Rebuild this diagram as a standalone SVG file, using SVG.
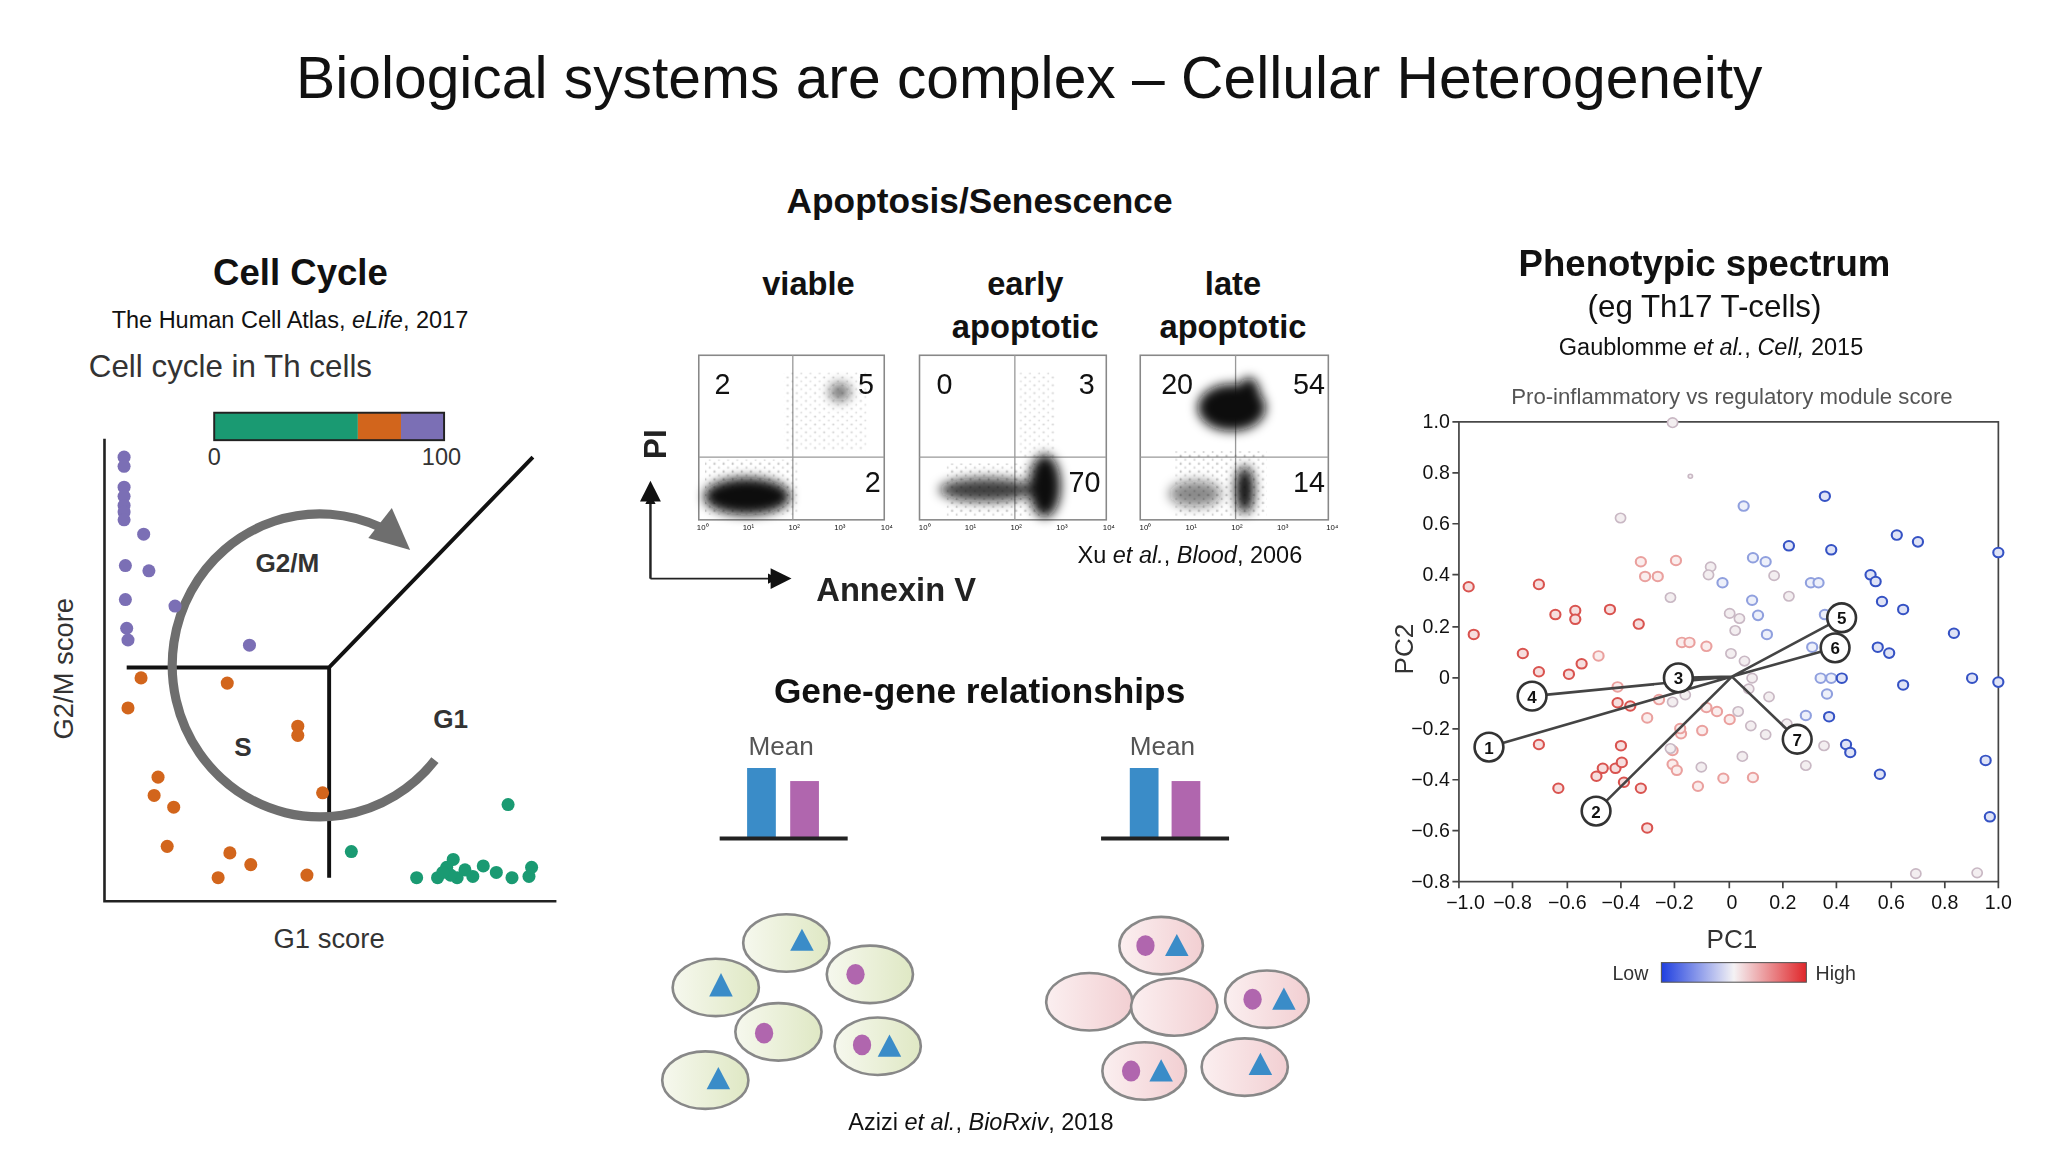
<svg xmlns="http://www.w3.org/2000/svg" width="2048" height="1152" viewBox="0 0 2048 1152">
<defs>
<style>
text{font-family:"Liberation Sans",Arial,sans-serif;fill:#111}
.b{font-weight:bold}
.pu{fill:#7b6fb5}.or{fill:#d2651c}.gr{fill:#1a9a72}
.box{fill:#fff;stroke:#888;stroke-width:1.2}
.gate{stroke:#999;stroke-width:1}
.tk{font-size:6px;fill:#777}
.cg{fill:url(#gG);stroke:#888;stroke-width:2}
.cp{fill:url(#gP);stroke:#888;stroke-width:2}
.tri{fill:#3a8cc8}.nuc{fill:#b066ae}
.r{fill:#f6dede;stroke:#d9534f;stroke-width:5}
.bl{fill:#dfe3f6;stroke:#3552c4;stroke-width:5}
.w{fill:#f3eef0;stroke:#c9b8c4;stroke-width:4}
.pc{fill:#fff;stroke:#333;stroke-width:2}
.pn{font-size:13px;font-weight:bold;text-anchor:middle}
.ax{font-size:15px;fill:#333}
</style>
<linearGradient id="gG" x1="0" x2="1"><stop offset="0" stop-color="#f6f8ee"/><stop offset="1" stop-color="#dfe8c4"/></linearGradient>
<linearGradient id="gP" x1="0" x2="1"><stop offset="0" stop-color="#fbeff0"/><stop offset="1" stop-color="#f2cfd2"/></linearGradient>
<linearGradient id="gL" x1="0" x2="1"><stop offset="0" stop-color="#1f3fe0"/><stop offset="0.5" stop-color="#f4f2f4"/><stop offset="1" stop-color="#e0262a"/></linearGradient>
<filter id="bl" x="-50%" y="-50%" width="200%" height="200%"><feGaussianBlur stdDeviation="4"/></filter>
<pattern id="sp" width="7" height="6" patternUnits="userSpaceOnUse"><circle cx="1" cy="1" r="0.7" fill="#333"/><circle cx="4.5" cy="4" r="0.6" fill="#555"/></pattern>
<marker id="ah" markerWidth="8" markerHeight="8" refX="4" refY="4" orient="auto" markerUnits="userSpaceOnUse" viewBox="0 0 8 8"><path d="M0,0 L8,4 L0,8z" fill="#111"/></marker>
</defs>
<rect width="2048" height="1152" fill="#fff"/>
<g transform="scale(1.30612)">
<text x="788" y="75" font-size="45" text-anchor="middle">Biological systems are complex – Cellular Heterogeneity</text>

<!-- Cell cycle -->
<g id="cellcycle">
<text x="230" y="218" font-size="28" class="b" text-anchor="middle">Cell Cycle</text>
<text x="222" y="251" font-size="18" text-anchor="middle">The Human Cell Atlas, <tspan font-style="italic">eLife</tspan>, 2017</text>
<text x="68" y="289" font-size="24" style="fill:#333">Cell cycle in Th cells</text>
<rect x="164" y="316" width="110" height="21" fill="#1a9a72"/>
<rect x="274" y="316" width="33" height="21" fill="#d2651c"/>
<rect x="307" y="316" width="33" height="21" fill="#7b6fb5"/>
<rect x="164" y="316" width="176" height="21" fill="none" stroke="#222" stroke-width="1.5"/>
<text x="164" y="356" font-size="18" text-anchor="middle" style="fill:#333">0</text>
<text x="338" y="356" font-size="18" text-anchor="middle" style="fill:#333">100</text>
<path d="M80,336 V690 H426" fill="none" stroke="#222" stroke-width="2"/>
<path d="M97,511 H252 V672 M252,511 L408,350" fill="none" stroke="#111" stroke-width="3"/>
<path d="M333,582 A113,116 0 1 1 292,404" fill="none" stroke="#6e6e6e" stroke-width="7"/>
<polygon points="314,421 282,412 300,389" fill="#6e6e6e"/>
<text x="220" y="438" font-size="20" class="b" text-anchor="middle" style="fill:#333">G2/M</text>
<text x="186" y="579" font-size="20" class="b" text-anchor="middle" style="fill:#333">S</text>
<text x="345" y="557" font-size="20" class="b" text-anchor="middle" style="fill:#333">G1</text>
<text transform="translate(56,512) rotate(-90)" font-size="21" text-anchor="middle" style="fill:#333">G2/M score</text>
<text x="252" y="726" font-size="21" text-anchor="middle" style="fill:#333">G1 score</text>
<g class="pu"><circle cx="95" cy="350" r="5"/><circle cx="95" cy="357" r="5"/><circle cx="95" cy="373" r="5"/><circle cx="95" cy="380" r="5"/><circle cx="95" cy="387" r="5"/><circle cx="95" cy="392" r="5"/><circle cx="95" cy="398" r="5"/><circle cx="110" cy="409" r="5"/><circle cx="96" cy="433" r="5"/><circle cx="114" cy="437" r="5"/><circle cx="96" cy="459" r="5"/><circle cx="134" cy="464" r="5"/><circle cx="97" cy="481" r="5"/><circle cx="98" cy="490" r="5"/><circle cx="191" cy="494" r="5"/></g>
<g class="or"><circle cx="108" cy="519" r="5"/><circle cx="174" cy="523" r="5"/><circle cx="98" cy="542" r="5"/><circle cx="228" cy="556" r="5"/><circle cx="228" cy="563" r="5"/><circle cx="121" cy="595" r="5"/><circle cx="118" cy="609" r="5"/><circle cx="133" cy="618" r="5"/><circle cx="247" cy="607" r="5"/><circle cx="128" cy="648" r="5"/><circle cx="176" cy="653" r="5"/><circle cx="192" cy="662" r="5"/><circle cx="167" cy="672" r="5"/><circle cx="235" cy="670" r="5"/></g>
<g class="gr"><circle cx="389" cy="616" r="5"/><circle cx="269" cy="652" r="5"/><circle cx="319" cy="672" r="5"/><circle cx="335" cy="672" r="5"/><circle cx="342" cy="664" r="5"/><circle cx="347" cy="658" r="5"/><circle cx="350" cy="672" r="5"/><circle cx="356" cy="666" r="5"/><circle cx="370" cy="663" r="5"/><circle cx="380" cy="668" r="5"/><circle cx="392" cy="672" r="5"/><circle cx="405" cy="671" r="5"/><circle cx="407" cy="664" r="5"/><circle cx="345" cy="670" r="5"/><circle cx="339" cy="668" r="5"/><circle cx="362" cy="671" r="5"/></g>
</g>

<!-- Apoptosis -->
<g id="apoptosis">
<text x="750" y="163" font-size="27" class="b" text-anchor="middle">Apoptosis/Senescence</text>
<g font-size="25" class="b" text-anchor="middle" style="fill:#222">
<text x="619" y="226">viable</text><text x="785" y="226">early</text><text x="785" y="259">apoptotic</text><text x="944" y="226">late</text><text x="944" y="259">apoptotic</text>
</g>
<rect class="box" x="535" y="272" width="142" height="126"/>
<rect class="box" x="704" y="272" width="143" height="126"/>
<rect class="box" x="873" y="272" width="144" height="126"/>
<path class="gate" d="M607,272V398M535,350H677M777,272V398M704,350H847M946,272V398M873,350H1017"/>
<g opacity="0.55"><rect x="600" y="285" width="65" height="60" fill="url(#sp)" opacity="0.6"/><rect x="780" y="285" width="28" height="65" fill="url(#sp)" opacity="0.6"/><rect x="900" y="345" width="70" height="50" fill="url(#sp)"/><rect x="540" y="352" width="70" height="42" fill="url(#sp)"/><rect x="725" y="355" width="80" height="40" fill="url(#sp)"/></g>
<g filter="url(#bl)" fill="#111">
<ellipse cx="572" cy="380" rx="33" ry="14"/><ellipse cx="643" cy="300" rx="8" ry="7" opacity="0.6"/>
<ellipse cx="755" cy="375" rx="36" ry="9" opacity="0.8"/><ellipse cx="800" cy="372" rx="12" ry="24"/>
<ellipse cx="943" cy="312" rx="26" ry="18"/><ellipse cx="956" cy="305" rx="9" ry="16"/><ellipse cx="953" cy="375" rx="7" ry="18"/><ellipse cx="915" cy="378" rx="20" ry="10" opacity="0.5"/>
</g>
<g font-size="22" style="fill:#222">
<text x="547" y="302">2</text><text x="657" y="302">5</text><text x="662" y="377">2</text>
<text x="717" y="302">0</text><text x="826" y="302">3</text><text x="818" y="377">70</text>
<text x="889" y="302">20</text><text x="990" y="302">54</text><text x="990" y="377">14</text>
</g>
<g class="tk" text-anchor="middle">
<text x="538" y="406">10⁰</text><text x="573" y="406">10¹</text><text x="608" y="406">10²</text><text x="643" y="406">10³</text><text x="679" y="406">10⁴</text>
<text x="708" y="406">10⁰</text><text x="743" y="406">10¹</text><text x="778" y="406">10²</text><text x="813" y="406">10³</text><text x="849" y="406">10⁴</text>
<text x="877" y="406">10⁰</text><text x="912" y="406">10¹</text><text x="947" y="406">10²</text><text x="982" y="406">10³</text><text x="1020" y="406">10⁴</text>
</g>
<text transform="translate(510,340) rotate(-90)" font-size="24" class="b" text-anchor="middle" style="fill:#222">PI</text>
<path d="M498,443V382M498,443H592" fill="none" stroke="#222" stroke-width="1.5" marker-end="url(#ah)"/>
<path d="M498,443V382" fill="none" stroke="#222" stroke-width="1.5" marker-end="url(#ah)"/>
<polygon points="498,368 490,384 506,384" fill="#111"/>
<polygon points="606,443 590,435 590,451" fill="#111"/>
<text x="625" y="460" font-size="25" class="b" style="fill:#222">Annexin V</text>
<text x="911" y="431" font-size="18" text-anchor="middle">Xu <tspan font-style="italic">et al.</tspan>, <tspan font-style="italic">Blood</tspan>, 2006</text>
</g>

<!-- Gene-gene -->
<g id="genegene">
<text x="750" y="538" font-size="27" class="b" text-anchor="middle">Gene-gene relationships</text>
<text x="598" y="578" font-size="20" text-anchor="middle" style="fill:#555">Mean</text>
<text x="890" y="578" font-size="20" text-anchor="middle" style="fill:#555">Mean</text>
<rect x="572" y="588" width="22" height="54" fill="#3a8cc8"/><rect x="605" y="598" width="22" height="44" fill="#b066ae"/>
<rect x="865" y="588" width="22" height="54" fill="#3a8cc8"/><rect x="897" y="598" width="22" height="44" fill="#b066ae"/>
<path d="M551,642H649M843,642H941" stroke="#222" stroke-width="3"/>
<ellipse class="cg" cx="602" cy="722" rx="33" ry="22"/><polygon class="tri" points="614,711 605,728 623,728"/>
<ellipse class="cg" cx="548" cy="756" rx="33" ry="22"/><polygon class="tri" points="552,745 543,763 561,763"/>
<ellipse class="cg" cx="666" cy="746" rx="33" ry="22"/><ellipse class="nuc" cx="655" cy="746" rx="7" ry="8"/>
<ellipse class="cg" cx="596" cy="790" rx="33" ry="22"/><ellipse class="nuc" cx="585" cy="791" rx="7" ry="8"/>
<ellipse class="cg" cx="672" cy="801" rx="33" ry="22"/><ellipse class="nuc" cx="660" cy="800" rx="7" ry="8"/><polygon class="tri" points="681,792 672,809 690,809"/>
<ellipse class="cg" cx="540" cy="827" rx="33" ry="22"/><polygon class="tri" points="550,817 541,834 559,834"/>
<ellipse class="cp" cx="889" cy="724" rx="32" ry="22"/><ellipse class="nuc" cx="877" cy="724" rx="7" ry="8"/><polygon class="tri" points="901,715 892,732 910,732"/>
<ellipse class="cp" cx="834" cy="767" rx="33" ry="22"/>
<ellipse class="cp" cx="899" cy="771" rx="33" ry="22"/>
<ellipse class="cp" cx="970" cy="765" rx="32" ry="22"/><ellipse class="nuc" cx="959" cy="765" rx="7" ry="8"/><polygon class="tri" points="983,756 974,773 992,773"/>
<ellipse class="cp" cx="876" cy="820" rx="32" ry="22"/><ellipse class="nuc" cx="866" cy="820" rx="7" ry="8"/><polygon class="tri" points="889,811 880,828 898,828"/>
<ellipse class="cp" cx="953" cy="817" rx="33" ry="22"/><polygon class="tri" points="965,806 956,823 974,823"/>
<text x="751" y="865" font-size="18" text-anchor="middle">Azizi <tspan font-style="italic">et al.</tspan>, <tspan font-style="italic">BioRxiv</tspan>, 2018</text>
</g>

<!-- Phenotypic spectrum -->
<g id="phenotypic">
<text x="1305" y="211" font-size="28" class="b" text-anchor="middle">Phenotypic spectrum</text>
<text x="1305" y="243" font-size="24" text-anchor="middle">(eg Th17 T-cells)</text>
<text x="1310" y="272" font-size="18" text-anchor="middle">Gaublomme <tspan font-style="italic">et al.</tspan>, <tspan font-style="italic">Cell,</tspan> 2015</text>
<text x="1326" y="309" font-size="17" text-anchor="middle" style="fill:#555">Pro-inflammatory vs regulatory module score</text>
<rect x="1117" y="323" width="413" height="352" fill="none" stroke="#444" stroke-width="1.3"/>
<g stroke="#444" stroke-width="1.3">
<path d="M1112,323H1117M1112,362H1117M1112,401H1117M1112,440H1117M1112,480H1117M1112,519H1117M1112,558H1117M1112,597H1117M1112,636H1117M1112,675H1117"/>
<path d="M1117,675V680M1158,675V680M1200,675V680M1241,675V680M1282,675V680M1324,675V680M1365,675V680M1406,675V680M1448,675V680M1489,675V680M1530,675V680"/>
</g>
<g class="ax" text-anchor="end">
<text x="1110" y="328">1.0</text><text x="1110" y="367">0.8</text><text x="1110" y="406">0.6</text><text x="1110" y="445">0.4</text><text x="1110" y="485">0.2</text><text x="1110" y="524">0</text><text x="1110" y="563">−0.2</text><text x="1110" y="602">−0.4</text><text x="1110" y="641">−0.6</text><text x="1110" y="680">−0.8</text>
</g>
<g class="ax" text-anchor="middle">
<text x="1122" y="696">−1.0</text><text x="1158" y="696">−0.8</text><text x="1200" y="696">−0.6</text><text x="1241" y="696">−0.4</text><text x="1282" y="696">−0.2</text><text x="1326" y="696">0</text><text x="1365" y="696">0.2</text><text x="1406" y="696">0.4</text><text x="1448" y="696">0.6</text><text x="1489" y="696">0.8</text><text x="1530" y="696">1.0</text>
</g>
<text x="1326" y="726" font-size="20" text-anchor="middle" style="fill:#333">PC1</text>
<text transform="translate(1082,497) rotate(-90)" font-size="20" text-anchor="middle" style="fill:#333">PC2</text>
<text x="1262" y="750" font-size="15" text-anchor="end" style="fill:#333">Low</text>
<rect x="1272" y="737" width="111" height="15" fill="url(#gL)" stroke="#555" stroke-width="0.8"/>
<text x="1390" y="750" font-size="15" style="fill:#333">High</text>
<g transform="translate(1117,323) scale(0.3239,0.3042) translate(-215,-133)">
<g class="r">
<circle cx="238" cy="548" r="12"/><circle cx="250" cy="668" r="12"/><circle cx="404" cy="542" r="12"/><circle cx="366" cy="716" r="12"/><circle cx="404" cy="762" r="12"/><circle cx="443" cy="618" r="12"/><circle cx="490" cy="608" r="12"/><circle cx="490" cy="630" r="12"/><circle cx="475" cy="768" r="12"/><circle cx="505" cy="742" r="12"/><circle cx="404" cy="945" r="12"/><circle cx="450" cy="1055" r="12"/><circle cx="540" cy="1025" r="12"/><circle cx="555" cy="1005" r="12"/><circle cx="585" cy="1005" r="12"/><circle cx="600" cy="990" r="12"/><circle cx="598" cy="948" r="12"/><circle cx="605" cy="1040" r="12"/><circle cx="660" cy="1155" r="12"/><circle cx="645" cy="1055" r="12"/><circle cx="590" cy="840" r="12"/><circle cx="620" cy="848" r="12"/><circle cx="640" cy="642" r="12"/><circle cx="572" cy="605" r="12"/>
</g>
<g class="r" opacity="0.55">
<circle cx="545" cy="722" r="12"/><circle cx="660" cy="878" r="12"/><circle cx="688" cy="832" r="12"/><circle cx="728" cy="482" r="12"/><circle cx="655" cy="522" r="12"/><circle cx="685" cy="522" r="12"/><circle cx="742" cy="688" r="12"/><circle cx="760" cy="688" r="12"/><circle cx="740" cy="918" r="12"/><circle cx="738" cy="905" r="12"/><circle cx="720" cy="995" r="12"/><circle cx="730" cy="1010" r="12"/><circle cx="780" cy="1050" r="12"/><circle cx="800" cy="852" r="12"/><circle cx="825" cy="862" r="12"/><circle cx="840" cy="1030" r="12"/><circle cx="855" cy="882" r="12"/><circle cx="645" cy="485" r="12"/><circle cx="800" cy="698" r="12"/><circle cx="590" cy="800" r="12"/><circle cx="720" cy="960" r="12"/><circle cx="790" cy="910" r="12"/><circle cx="910" cy="1028" r="12"/>
</g>
<g class="bl">
<circle cx="1080" cy="320" r="12"/><circle cx="995" cy="445" r="12"/><circle cx="1095" cy="455" r="12"/><circle cx="1250" cy="418" r="12"/><circle cx="1300" cy="435" r="12"/><circle cx="1490" cy="462" r="12"/><circle cx="1188" cy="518" r="12"/><circle cx="1200" cy="535" r="12"/><circle cx="1215" cy="585" r="12"/><circle cx="1265" cy="605" r="12"/><circle cx="1385" cy="665" r="12"/><circle cx="1205" cy="700" r="12"/><circle cx="1232" cy="715" r="12"/><circle cx="1120" cy="778" r="12"/><circle cx="1265" cy="795" r="12"/><circle cx="1428" cy="778" r="12"/><circle cx="1490" cy="788" r="12"/><circle cx="1460" cy="985" r="12"/><circle cx="1470" cy="1127" r="12"/><circle cx="1210" cy="1020" r="12"/><circle cx="1130" cy="945" r="12"/><circle cx="1140" cy="965" r="12"/><circle cx="1090" cy="875" r="12"/>
</g>
<g class="bl" opacity="0.55">
<circle cx="888" cy="345" r="12"/><circle cx="1047" cy="538" r="12"/><circle cx="1065" cy="538" r="12"/><circle cx="1095" cy="778" r="12"/><circle cx="1070" cy="778" r="12"/><circle cx="1035" cy="872" r="12"/><circle cx="1085" cy="818" r="12"/><circle cx="1080" cy="618" r="12"/><circle cx="910" cy="475" r="12"/><circle cx="940" cy="485" r="12"/><circle cx="838" cy="538" r="12"/><circle cx="908" cy="582" r="12"/><circle cx="922" cy="620" r="12"/><circle cx="943" cy="668" r="12"/><circle cx="1050" cy="700" r="12"/><circle cx="1100" cy="705" r="12"/>
</g>
<g class="w">
<circle cx="720" cy="135" r="12"/><circle cx="762" cy="270" r="5"/><circle cx="597" cy="375" r="12"/><circle cx="715" cy="575" r="12"/><circle cx="810" cy="498" r="12"/><circle cx="805" cy="518" r="12"/><circle cx="960" cy="520" r="12"/><circle cx="995" cy="572" r="12"/><circle cx="855" cy="615" r="12"/><circle cx="878" cy="628" r="12"/><circle cx="868" cy="658" r="12"/><circle cx="858" cy="716" r="12"/><circle cx="890" cy="735" r="12"/><circle cx="908" cy="778" r="12"/><circle cx="900" cy="805" r="12"/><circle cx="948" cy="825" r="12"/><circle cx="875" cy="862" r="12"/><circle cx="905" cy="898" r="12"/><circle cx="940" cy="920" r="12"/><circle cx="990" cy="893" r="12"/><circle cx="1078" cy="948" r="12"/><circle cx="885" cy="975" r="12"/><circle cx="1035" cy="998" r="12"/><circle cx="788" cy="1002" r="12"/><circle cx="715" cy="955" r="12"/><circle cx="1295" cy="1270" r="12"/><circle cx="1440" cy="1268" r="12"/><circle cx="750" cy="820" r="12"/><circle cx="720" cy="838" r="12"/>
</g>
</g>
<path d="M1326,518L1140,572M1326,518L1222,621M1326,518L1285,519M1326,518L1173,533M1326,518L1410,473M1326,518L1405,496M1326,518L1376,566" stroke="#444" stroke-width="2" fill="none"/>
<circle class="pc" cx="1140" cy="572" r="11"/><text class="pn" x="1140" y="577">1</text>
<circle class="pc" cx="1222" cy="621" r="11"/><text class="pn" x="1222" y="626">2</text>
<circle class="pc" cx="1285" cy="519" r="11"/><text class="pn" x="1285" y="524">3</text>
<circle class="pc" cx="1173" cy="533" r="11"/><text class="pn" x="1173" y="538">4</text>
<circle class="pc" cx="1410" cy="473" r="11"/><text class="pn" x="1410" y="478">5</text>
<circle class="pc" cx="1405" cy="496" r="11"/><text class="pn" x="1405" y="501">6</text>
<circle class="pc" cx="1376" cy="566" r="11"/><text class="pn" x="1376" y="571">7</text>
</g>
</g>
</svg>
